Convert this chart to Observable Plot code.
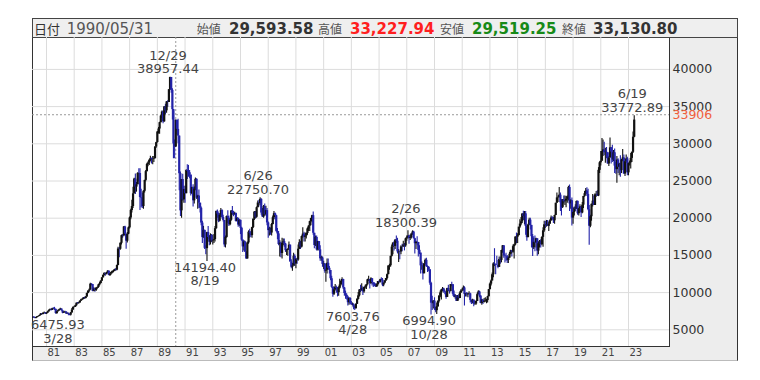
<!DOCTYPE html>
<html>
<head>
<meta charset="utf-8">
<script src="https://cdn.jsdelivr.net/npm/d3@7"></script>
<script src="https://cdn.jsdelivr.net/npm/@observablehq/plot@0.6"></script>
<style>
  body { margin: 0; background: #fff; font-family: "DejaVu Sans", "Noto Sans CJK JP", sans-serif; }
  #wrap { position: relative; width: 760px; height: 380px; overflow: hidden; }
  #panel { position: absolute; left: 32px; top: 37px; width: 706px; height: 324px; box-sizing: border-box;
           background: #ededed; border-left: 1px solid #333; border-right: 1px solid #333; border-bottom: 1px solid #bbb; }
  #plotbg { position: absolute; left: 32px; top: 37px; width: 638px; height: 310px; box-sizing: border-box;
            background: #fff; border-left: 1px solid #333; border-right: 1px solid #333; border-bottom: 1px solid #333; }
  #header { position: absolute; left: 32px; top: 18px; width: 706px; height: 20px; box-sizing: border-box;
            background: #efefef; border: 1px solid #444; }
  #header svg { position: absolute; left: -1px; top: -1px; }
  #chart { position: absolute; left: 0; top: 37px; }
</style>
</head>
<body>
<div id="wrap">
  <div id="panel"></div>
  <div id="plotbg"></div>
  <div id="header"></div>
  <div id="chart"></div>
</div>
<script>
// ---------- data ----------
const startYear = 1980;
const firstOpen = 6570;
const closes = [
  6690, 6650, 6530, 6640, 6760, 6800, 6930, 7130, 7050, 7220, 7270, 7116,
  7250, 7400, 7600, 7700, 7620, 7830, 7820, 7750, 7180, 7430, 7560, 7682,
  7790, 7560, 7240, 7380, 7400, 7130, 7200, 7070, 6970, 7270, 7650, 8017,
  8060, 8230, 8580, 8530, 8620, 8850, 9030, 9080, 9290, 9210, 9410, 9894,
  10200, 10350, 11130, 11080, 10170, 10480, 10290, 10590, 10680, 11030, 11220, 11543,
  11990, 12320, 12580, 12430, 12650, 12880, 12300, 12520, 12700, 12850, 12890, 13113,
  13020, 13640, 15860, 15830, 16630, 17650, 17640, 18820, 17850, 16910, 17850, 18701,
  20030, 21030, 21570, 23270, 25260, 24180, 24490, 26030, 26010, 22770, 22680, 21564,
  23620, 25080, 26260, 27230, 27420, 27770, 28020, 27900, 27920, 27990, 29580, 30159,
  31580, 31985, 32839, 33714, 34266, 32949, 34954, 34431, 35637, 35549, 37269, 38916,
  37189, 34592, 29980, 29585, 33131, 31940, 31036, 25978, 20984, 25194, 22455, 23849,
  23293, 26409, 26292, 26111, 25790, 23291, 24121, 22335, 23916, 25222, 22687, 22984,
  22023, 21339, 19346, 17391, 18348, 15952, 15910, 18061, 17399, 16767, 17684, 16925,
  17024, 17140, 18591, 20919, 20552, 19590, 20380, 21027, 20106, 19704, 16408, 17417,
  20229, 19997, 19112, 19725, 20974, 20644, 20462, 20629, 19564, 19990, 19076, 19723,
  18650, 17053, 16140, 16807, 15437, 14517, 16678, 18117, 17913, 17655, 18744, 19868,
  20813, 20125, 21407, 22041, 21956, 22531, 20693, 20167, 21556, 20466, 21020, 19361,
  18330, 18557, 18003, 19151, 20069, 20605, 20331, 18229, 17888, 16459, 16636, 15259,
  16628, 16831, 16527, 15641, 15671, 15830, 16379, 14108, 13406, 13564, 14884, 13842,
  14499, 14368, 15837, 16702, 16112, 17530, 17862, 17437, 17605, 17943, 18558, 18934,
  19540, 19960, 20337, 17974, 16332, 17411, 15727, 16861, 15747, 14539, 14649, 13786,
  13843, 12884, 12999, 13934, 13262, 12969, 11861, 10714, 9775, 10366, 10697, 10543,
  9998, 10588, 11025, 11493, 11764, 10622, 9877, 9619, 9383, 8640, 9216, 8579,
  8340, 8363, 7973, 7831, 8425, 9083, 9563, 10344, 10219, 10560, 10101, 10677,
  10784, 11042, 11715, 11762, 11236, 11859, 11326, 11082, 10824, 10771, 11073, 11489,
  11388, 11741, 11669, 11009, 11277, 11584, 11900, 12414, 13574, 13607, 14872, 16111,
  16650, 16205, 17060, 16906, 15467, 15505, 15457, 16141, 16128, 16399, 16274, 17226,
  17383, 17604, 17288, 17400, 17876, 18138, 17249, 16569, 16786, 16738, 15681, 15308,
  13592, 13604, 12526, 13850, 14339, 13481, 13377, 13073, 11260, 8577, 8512, 8860,
  7994, 7568, 8110, 8828, 9523, 9958, 10357, 10493, 10133, 10035, 9346, 10546,
  10198, 10126, 11090, 11057, 9769, 9383, 9537, 8824, 9369, 9202, 9937, 10229,
  10238, 10624, 9755, 9850, 9694, 9816, 9833, 8955, 8700, 8988, 8435, 8455,
  8803, 9723, 10084, 9521, 8543, 9007, 8695, 8840, 8870, 8928, 9446, 10395,
  11139, 11559, 12398, 13861, 13775, 13677, 13668, 13389, 14456, 14328, 15662, 16291,
  14915, 14841, 14828, 14304, 14632, 15162, 15621, 15425, 16174, 16414, 17460, 17451,
  17674, 18798, 19207, 19520, 20563, 20236, 20585, 18890, 17388, 19083, 19747, 19034,
  17518, 16027, 16759, 16666, 17235, 15576, 16569, 16887, 16450, 17425, 18308, 19114,
  19041, 19119, 18909, 19197, 19651, 20033, 19925, 19646, 20356, 22012, 22725, 22765,
  23098, 22068, 21454, 22468, 22202, 22305, 22554, 22865, 24120, 21920, 22351, 20015,
  20773, 21385, 21206, 22259, 20601, 21276, 21522, 20704, 21756, 22927, 23294, 23657,
  23205, 21143, 18917, 20194, 21878, 22288, 21710, 23140, 23185, 22977, 26434, 27444,
  27663, 28966, 29179, 28813, 28860, 28792, 27284, 28090, 29453, 28893, 27822, 28792,
  27002, 26527, 27821, 26848, 27280, 26393, 27802, 28092, 25937, 27587, 27969, 26095,
  27327, 27446, 28041, 28856, 30888, 33189
];
const highs = [
  6720, 6760, 6670, 6680, 6780, 6850, 6980, 7200, 7190, 7280, 7380, 7300,
  7300, 7450, 7650, 7790, 7800, 7900, 7950, 8019, 7760, 7500, 7650, 7750,
  7900, 7800, 7560, 7460, 7500, 7420, 7280, 7250, 7100, 7330, 7850, 8050,
  8160, 8300, 8600, 8660, 8700, 8900, 9100, 9200, 9330, 9390, 9480, 9900,
  10250, 10500, 11250, 11190, 11100, 10700, 10550, 10700, 10750, 11100, 11400, 11600,
  12000, 12380, 12660, 12600, 12700, 12920, 12900, 12570, 12780, 12900, 13000, 13130,
  13230, 13700, 16080, 16050, 16690, 17740, 17800, 18900, 18930, 17850, 18080, 18820,
  20150, 21210, 22400, 24170, 25370, 25930, 24800, 26120, 26650, 26650, 23900, 23390,
  23700, 25100, 26400, 27400, 27600, 27900, 28330, 28100, 28300, 28300, 29600, 30200,
  31640, 32200, 32900, 33800, 34400, 34400, 35000, 35300, 35700, 35800, 37300, 38957,
  38712, 37400, 34600, 30500, 33228, 33200, 33300, 30800, 26200, 25200, 25900, 24300,
  24300, 26500, 27200, 27100, 26400, 25800, 24200, 24500, 24200, 25400, 25300, 23100,
  23800, 22000, 21500, 19600, 18900, 18400, 16300, 18100, 18900, 17600, 17900, 17800,
  17700, 17800, 18900, 20950, 21100, 20700, 20600, 21300, 21150, 20400, 19700, 17600,
  20300, 21000, 20300, 19900, 21000, 21570, 20900, 20800, 20700, 20100, 20000, 19800,
  19700, 18800, 17100, 17000, 16900, 15500, 16800, 18300, 18500, 18200, 18800, 19900,
  20900, 20900, 21500, 22300, 22400, 22751, 22600, 21300, 21700, 21900, 21600, 21300,
  19500, 18800, 18700, 19300, 20300, 20910, 20700, 20400, 18600, 18200, 17000, 16800,
  17300, 17200, 17200, 16600, 15800, 15900, 16800, 16400, 14400, 13900, 15300, 15100,
  14500, 14600, 16400, 17100, 16900, 17600, 18700, 18100, 18000, 18000, 18700, 19000,
  19600, 20000, 20400, 20833, 17800, 17600, 17600, 16900, 16800, 16300, 14900, 14800,
  14200, 13900, 13200, 14500, 14500, 13500, 12900, 12200, 10700, 10800, 11100, 10900,
  10700, 10800, 11800, 11600, 11980, 11800, 10700, 10200, 9800, 9500, 9300, 9300,
  8800, 8600, 8500, 8200, 8500, 9200, 10000, 10400, 11000, 11200, 10800, 10700,
  11000, 11100, 11800, 12200, 11700, 11990, 11900, 11200, 11300, 11200, 11200, 11500,
  11600, 11800, 12000, 11900, 11300, 11600, 11900, 12500, 13600, 13800, 14900, 16400,
  16700, 16900, 17100, 17600, 17300, 15800, 15600, 16300, 16500, 16900, 16600, 17300,
  17600, 18300, 17700, 17700, 17900, 18300, 18262, 17300, 16900, 17500, 16700, 16300,
  15200, 14100, 13900, 13900, 14500, 14600, 13600, 13500, 12800, 11400, 9500, 8900,
  9300, 7800, 8600, 8900, 9600, 10200, 10400, 10700, 10600, 10300, 10000, 10600,
  11000, 10200, 11100, 11400, 11100, 10200, 9700, 9600, 9600, 9700, 10100, 10400,
  10600, 10900, 10800, 9900, 10000, 9900, 10100, 9900, 9000, 9100, 8900, 8800,
  8900, 9900, 10260, 10200, 9600, 9100, 9000, 9200, 9300, 9100, 9500, 10400,
  11300, 11700, 12650, 14000, 15900, 13800, 14900, 14300, 14800, 14800, 15700, 16320,
  16200, 15100, 15300, 15000, 14800, 15400, 15700, 15600, 16400, 16500, 17500, 18000,
  17900, 18800, 19800, 20100, 20600, 20950, 20900, 20900, 18900, 19200, 20000, 20000,
  18500, 17800, 17300, 17600, 17300, 17100, 16800, 17000, 17100, 17500, 18700, 19600,
  19600, 19700, 19700, 19500, 19800, 20300, 20200, 20100, 20400, 22000, 23400, 23000,
  24129, 23400, 22500, 22500, 23000, 23000, 22900, 23000, 24300, 24448, 22500, 22700,
  20900, 21500, 21800, 22300, 22300, 21300, 21800, 21500, 22100, 22900, 23600, 24000,
  24100, 23900, 21700, 20400, 21900, 23200, 23000, 23300, 23600, 23700, 26800, 27600,
  28980, 30714, 30500, 30200, 29400, 29500, 28800, 28300, 30795, 29500, 29800, 29100,
  29300, 27500, 28300, 28000, 27400, 28400, 27900, 29222, 28500, 27600, 28500, 28200,
  27400, 27700, 28700, 28900, 31600, 33773
];
const lows = [
  6540, 6560, 6476, 6490, 6620, 6710, 6780, 6920, 6980, 7010, 7150, 7060,
  7050, 7200, 7380, 7550, 7520, 7600, 7700, 7600, 7080, 7100, 7380, 7500,
  7580, 7500, 7150, 7200, 7300, 7080, 7050, 6900, 6880, 6850, 7240, 7640,
  7950, 8000, 8180, 8420, 8450, 8560, 8800, 8950, 9030, 9100, 9150, 9390,
  9860, 10050, 10300, 10900, 10100, 10100, 10050, 10150, 10450, 10600, 10900, 11150,
  11500, 11950, 12240, 12200, 12380, 12580, 12250, 12180, 12380, 12550, 12650, 12800,
  12880, 12920, 13600, 14700, 15700, 16400, 17300, 17500, 17600, 15820, 16650, 17780,
  18540, 19800, 20700, 21300, 23270, 23200, 23500, 24700, 24900, 21040, 21420, 21300,
  21200, 23400, 24900, 26200, 26900, 27100, 27600, 27300, 27200, 27500, 28100, 29400,
  30100, 31300, 31300, 32800, 33400, 32700, 32900, 33900, 34100, 34900, 35600, 37200,
  36800, 33200, 28000, 28000, 29519, 31200, 30000, 23700, 20222, 20000, 22300, 22000,
  22000, 23500, 25200, 25500, 25300, 23000, 23200, 21500, 21900, 23700, 22500, 21200,
  21300, 20700, 19000, 16600, 17300, 15800, 15100, 14194, 17100, 16300, 16400, 16700,
  16400, 16600, 16800, 18500, 20000, 19400, 19500, 20100, 19900, 19500, 16100, 16000,
  17300, 19300, 18900, 19000, 19600, 20400, 20200, 20400, 19500, 19500, 18800, 18900,
  17800, 16900, 15400, 15600, 15400, 14485, 14500, 16500, 17300, 17400, 17300, 18600,
  19700, 19900, 20000, 21400, 21500, 21700, 20400, 20100, 20000, 20300, 20300, 19000,
  17300, 17600, 17700, 17600, 19100, 19800, 19800, 18100, 17100, 16300, 14800, 14700,
  14500, 16300, 16100, 15400, 15000, 14900, 15800, 14100, 13200, 12880, 13600, 13500,
  13200, 13800, 14200, 15800, 15800, 16000, 17300, 16800, 16800, 17200, 17700, 18200,
  18200, 19000, 19400, 17700, 15900, 16200, 15600, 15600, 15600, 14200, 14200, 13400,
  13100, 12600, 11400, 12500, 13100, 12500, 11600, 10600, 9382, 9600, 10200, 9900,
  9420, 9500, 10500, 10900, 11400, 10400, 9500, 9100, 9000, 8200, 8300, 8400,
  8300, 8200, 7700, 7604, 7800, 8400, 9000, 9400, 10000, 10200, 9600, 9900,
  10500, 10400, 11000, 11500, 10500, 11100, 10900, 10700, 10800, 10700, 10700, 10900,
  11200, 11300, 11600, 10800, 10800, 11200, 11500, 11700, 12400, 13000, 13400, 14800,
  15100, 15600, 15800, 16600, 15200, 14045, 14400, 15100, 15500, 16100, 15600, 16100,
  16900, 17200, 16500, 17000, 17200, 17700, 17200, 15200, 15800, 16300, 14800, 15100,
  12500, 13000, 11700, 12600, 13700, 13400, 12700, 12800, 11000, 6995, 7600, 7800,
  7600, 7300, 7055, 8000, 8600, 9300, 9000, 10100, 9900, 9700, 9100, 9400,
  10100, 9800, 10200, 10800, 9500, 9300, 9100, 8800, 9000, 9000, 9200, 9900,
  10100, 10200, 8200, 9400, 9400, 9300, 9700, 8600, 8400, 8500, 8100, 8300,
  8300, 8800, 9700, 9300, 8500, 8300, 8400, 8600, 8700, 8500, 8600, 9400,
  10400, 10900, 11700, 12000, 13500, 12400, 13900, 13200, 13400, 13800, 14000, 15300,
  14600, 13995, 14200, 13900, 13900, 14600, 15100, 14800, 15300, 14500, 16300, 16600,
  16600, 17600, 18600, 19000, 19300, 19700, 19100, 17700, 16900, 17500, 19000, 18400,
  16000, 14866, 15800, 15500, 16000, 14900, 15100, 16000, 16000, 16300, 16100, 18100,
  18600, 18800, 19000, 18200, 19200, 19600, 19800, 19300, 19200, 20400, 22000, 22100,
  22700, 20900, 20300, 21300, 21900, 21700, 21400, 22000, 22300, 20900, 21200, 18949,
  19200, 20300, 20900, 21200, 20400, 20300, 21000, 20100, 20600, 21300, 22800, 23100,
  22900, 21000, 16358, 18700, 19600, 21500, 21700, 22000, 22800, 22900, 22900, 26000,
  27000, 27800, 28300, 28400, 27400, 28000, 27300, 26954, 28300, 27300, 27500, 27600,
  26000, 25900, 24682, 26000, 25700, 25500, 26000, 27600, 25900, 25600, 27400, 25700,
  25700, 27000, 26600, 27500, 28700, 30800
];
const yTicks = [5000, 10000, 15000, 20000, 25000, 30000, 35000, 40000];
const xTickYears = [1981, 1983, 1985, 1987, 1989, 1991, 1993, 1995, 1997, 1999, 2001, 2003,
                    2005, 2007, 2009, 2011, 2013, 2015, 2017, 2019, 2021, 2023];
const highMonths = ["1989-12", "1996-06", "2007-02", "2023-06"];
const highValues = [38957.44, 22750.70, 18300.39, 33772.89];
const highDays = ["12/29", "6/26", "2/26", "6/19"];
const lowMonths = ["1980-03", "1992-08", "2003-04", "2008-10"];
const lowValues = [6475.93, 14194.40, 7603.76, 6994.90];
const lowDays = ["3/28", "8/19", "4/28", "10/28"];
const crossMonth = "1990-05";
const currentPrice = 33906;
const headerDate = "1990/05/31";
const headerLabels = ["始値", "高値", "安値", "終値"];
const headerValues = ["29,593.58", "33,227.94", "29,519.25", "33,130.80"];

// ---------- build ----------
const parseMonth = s => { const [y, m] = s.split("-").map(Number); return new Date(Date.UTC(y, m - 1, 1)); };
const candles = closes.map((c, i) => {
  const o = i === 0 ? firstOpen : closes[i - 1];
  return {
    date: new Date(Date.UTC(startYear + Math.floor(i / 12), i % 12, 1)),
    open: o, close: c,
    high: Math.max(highs[i], o, c), low: Math.min(lows[i], o, c),
    color: c >= o ? "#111111" : "#2323a8"
  };
});
const highData = highMonths.map((m, i) => ({date: parseMonth(m), value: highValues[i], text: `${highDays[i]}\n${highValues[i].toFixed(2)}`}));
const lowData = lowMonths.map((m, i) => ({date: parseMonth(m), value: lowValues[i], text: `${lowValues[i].toFixed(2)}\n${lowDays[i]}`}));
const xTickDates = xTickYears.map(y => new Date(Date.UTC(y, 0, 1)));

const t0 = Date.UTC(1981, 0, 1), t1 = Date.UTC(2023, 0, 1);
const pxPerMs = 582 / (t1 - t0);
const xDomain = [new Date(t0 - 14 / pxPerMs), new Date(t1 + 41 / pxPerMs)];

const FONT = "DejaVu Sans, Noto Sans CJK JP, sans-serif";
const textStyle = {fill: "#444", fontSize: 13, lineHeight: 1.03};

const chart = Plot.plot({
  width: 760, height: 323,
  marginLeft: 32, marginRight: 91, marginTop: 0, marginBottom: 14,
  x: {type: "utc", domain: xDomain},
  y: {domain: [2755, 44288]},
  color: {type: "identity"},
  style: {background: "transparent", fontFamily: FONT, overflow: "visible"},
  marks: [
    Plot.ruleY(yTicks, {stroke: "#dcdcdc"}),
    Plot.ruleX(xTickDates, {stroke: "#dcdcdc"}),
    Plot.ruleY([currentPrice], {stroke: "#9a9a9a", strokeDasharray: "2,2"}),
    Plot.ruleX([parseMonth(crossMonth)], {stroke: "#9a9a9a", strokeDasharray: "2,2"}),
    Plot.ruleX(candles, {x: "date", y1: "low", y2: "high", stroke: "color", strokeWidth: 1.1, clip: true}),
    Plot.ruleX(candles, {x: "date", y1: "open", y2: "close", stroke: "color", strokeWidth: 2.2, clip: true}),
    Plot.text(highData, {x: "date", y: "value", text: "text", lineAnchor: "bottom", dy: -4, dx: -2, ...textStyle}),
    Plot.text(lowData.slice(0, 1), {x: "date", y: "value", text: "text", lineAnchor: "top", dy: 1, dx: 23, ...textStyle}),
    Plot.text(lowData.slice(1), {x: "date", y: "value", text: "text", lineAnchor: "top", dy: 1, dx: -2, ...textStyle}),
    Plot.axisY({anchor: "right", ticks: yTicks, tickSize: 0, tickPadding: 3, textAnchor: "start",
                tickFormat: d => String(d), fontSize: 12.5, fill: "#333", label: null}),
    Plot.axisX({ticks: xTickDates, tickSize: 0, tickPadding: 2, textAnchor: "start", dx: 1,
                tickFormat: d3.utcFormat("%y"), fontSize: 10, fill: "#444", label: null}),
    Plot.text([currentPrice], {y: d => d, text: d => String(d), frameAnchor: "right", textAnchor: "start", dx: 3,
                               fill: "#f0603c", fontSize: 12.5})
  ]
});
document.getElementById("chart").appendChild(chart);

// ---------- header ----------
const hdr = d3.select("#header").append("svg").attr("width", 706).attr("height", 20)
  .style("font-family", FONT);
const hx = [164.7, 286, 408, 530];
const vx = [197, 318, 440, 561];
const vcol = ["#333", "#ff1f1f", "#178a17", "#333"];
hdr.append("text").attr("x", 2).attr("y", 16).attr("font-size", 13).attr("fill", "#333").text("日付");
hdr.append("text").attr("x", 34.7).attr("y", 16).attr("font-size", 15).attr("fill", "#555").text(headerDate);
headerLabels.forEach((l, i) => {
  hdr.append("text").attr("x", hx[i]).attr("y", 15.5).attr("font-size", 12).attr("fill", "#555").text(l);
  hdr.append("text").attr("x", vx[i]).attr("y", 16).attr("font-size", 15).attr("font-weight", "bold")
     .attr("fill", vcol[i]).text(headerValues[i]);
});
</script>
</body>
</html>
